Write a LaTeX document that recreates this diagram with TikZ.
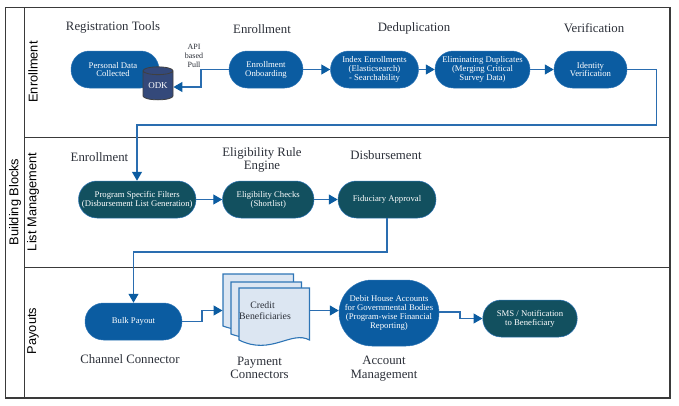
\documentclass[tikz,border=0pt]{standalone}
\usepackage{fontspec}
\setmainfont{Liberation Serif}
\newfontfamily\lsans{Liberation Sans}
\usetikzlibrary{shapes.geometric,arrows.meta}
\definecolor{pillblue}{HTML}{0B5CA1}
\definecolor{pillteal}{HTML}{12505F}
\definecolor{odkblue}{HTML}{34497A}
\definecolor{linkblue}{HTML}{2A6DB0}
\definecolor{docfill}{HTML}{DCE6F2}
\definecolor{docline}{HTML}{2E75B6}
\definecolor{framec}{HTML}{3A3A3A}
\definecolor{headc}{HTML}{2B2F38}
\tikzset{
  x=1pt,y=-1pt,
  pill/.style={rounded corners=18.4pt,minimum height=37pt,inner sep=0pt,text=white,align=center,
    font=\fontsize{8.7}{8.9}\selectfont,draw=docline,line width=0.5pt},
  bluepill/.style={pill,fill=pillblue},
  tealpill/.style={pill,fill=pillteal},
  head/.style={align=center,text=headc,inner sep=0pt,font=\fontsize{12.8}{13.5}\selectfont},
  lane/.style={rotate=90,inner sep=0pt,text=black,font=\lsans\fontsize{12.8}{14}\selectfont},
  frameline/.style={draw=framec,line width=1.5pt},
  link/.style={draw=linkblue,line width=1.2pt},
  linkarrow/.style={link,-{Triangle[length=9pt,width=10pt,color=pillblue]}},
  docpage/.style={draw=docline,fill=docfill,line width=1.1pt,line join=miter},
}
\begin{document}
\begin{tikzpicture}
\useasboundingbox (0,0) rectangle (679,405);
% frames
\draw[frameline] (5.5,7.5) rectangle (670,398);
\draw[frameline] (24.5,7.5) -- (24.5,398);
\draw[frameline] (24.5,137.5) -- (670,137.5);
\draw[frameline] (24.5,267.5) -- (670,267.5);
% lane labels
\node[lane] (bb) at (15,202) {Building Blocks};
\node[lane] (l1) at (33,72) {Enrollment};
\node[lane] (l2) at (33,202) {List Management};
\node[lane] (l3) at (33,331) {Payouts};
% headings
\node[head] (h1) at (113,27) {Registration Tools};
\node[head] (h2) at (262,29) {Enrollment};
\node[head] (h3) at (414,28.5) {Deduplication};
\node[head] (h4) at (594,28.5) {Verification};
\node[head] (h5) at (99.5,157) {Enrollment};
\node[head] (h6) at (262,160) {Eligibility Rule\\Engine};
\node[head] (h7) at (386,155.5) {Disbursement};
\node[head] (h8) at (130,359.5) {Channel Connector};
\node[head] (h9) at (259.5,368) {Payment\\Connectors};
\node[head] (h10) at (384,368.5) {Account\\Management};
\node[align=center,inner sep=0pt,text=headc,font=\fontsize{8}{9}\selectfont] (api) at (194,56) {API\\based\\Pull};
% row 1
\node[bluepill,minimum width=88pt] (pd) at (115,69.5) {\hspace*{-4pt}Personal Data\\\hspace*{-4pt}Collected};
\node[cylinder,shape border rotate=90,aspect=0.4,draw=black!75,fill=odkblue,line width=0.8pt,
  minimum width=30pt,minimum height=33pt,inner sep=0pt,text=white,
  font=\fontsize{9}{9}\selectfont] (odk) at (158,85.5) {ODK};
\node[bluepill,minimum width=74pt] (onb) at (266,69.5) {Enrollment\\Onboarding};
\node[bluepill,minimum width=88pt] (idx) at (374.5,69.5) {Index Enrollments\\(Elasticsearch)\\- Searchability};
\node[bluepill,minimum width=95pt] (elim) at (482.5,69.5) {Eliminating Duplicates\\(Merging Critical\\Survey Data)};
\node[bluepill,minimum width=73pt] (idv) at (590.5,69.5) {Identity\\Verification};
% row 2
\node[tealpill,minimum width=117.5pt] (prog) at (137.25,199.5) {Program Specific Filters\\(Disbursement List Generation)};
\node[tealpill,minimum width=91.5pt] (elig) at (268.25,199.5) {Eligibility Checks\\(Shortlist)};
\node[tealpill,minimum width=98pt] (fid) at (387,199.5) {Fiduciary Approval};
% row 3
\node[bluepill,minimum width=97pt] (bulk) at (133.5,321.5) {Bulk Payout};
% documents
\draw[docpage] (223,274) -- (293.5,274) -- (293.5,325) .. controls (275,318) and (255,338) .. (223,326) -- cycle;
\draw[docpage] (231,282) -- (301.5,282) -- (301.5,333) .. controls (283,326) and (263,346) .. (231,334) -- cycle;
\draw[docpage] (239,288) -- (309.5,288) -- (309.5,340) .. controls (291,330) and (271,356) .. (239,340) -- cycle;
\node[align=center,inner sep=0pt,text=headc,font=\fontsize{9.8}{10.8}\selectfont] (cred) at (265,310.5) {\hspace*{-5pt}Credit\\Beneficiaries};
\coordinate (docin) at (222.5,310.5);
\coordinate (docout) at (309.5,310.5);
\node[bluepill,minimum width=100pt,minimum height=66pt,rounded corners=33pt] (deb) at (389,313)
  {Debit House Accounts\\for Governmental Bodies\\(Program-wise Financial\\Reporting)};
\node[tealpill,minimum width=94.5pt] (sms) at (530,318.5) {SMS / Notification\\to Beneficiary};
% connectors
\draw[linkarrow] (onb.west) -- (201,69.5) -- (201,87) -- (odk.east |- 0,87);
\draw[linkarrow] (onb.east) -- (idx.west);
\draw[linkarrow] (idx.east) -- (elim.west);
\draw[linkarrow] (elim.east) -- (idv.west);
\draw[linkarrow] (idv.east) -- (656.5,69.5) -- (656.5,125) -- (137,125) -- (prog.north -| 137,0);
\draw[linkarrow] (prog.east) -- (elig.west);
\draw[linkarrow] (elig.east) -- (fid.west);
\draw[linkarrow] (fid.south) -- (387,252) -- (133.5,252) -- (bulk.north);
\draw[linkarrow] (bulk.east) -- (202,321.5) -- (202,310.5) -- (docin);
\draw[linkarrow] (docout) -- (deb.west |- docout);
\draw[linkarrow] (deb.east |- 0,312) -- (460,312) -- (460,318.5) -- (sms.west);
\end{tikzpicture}
\end{document}
